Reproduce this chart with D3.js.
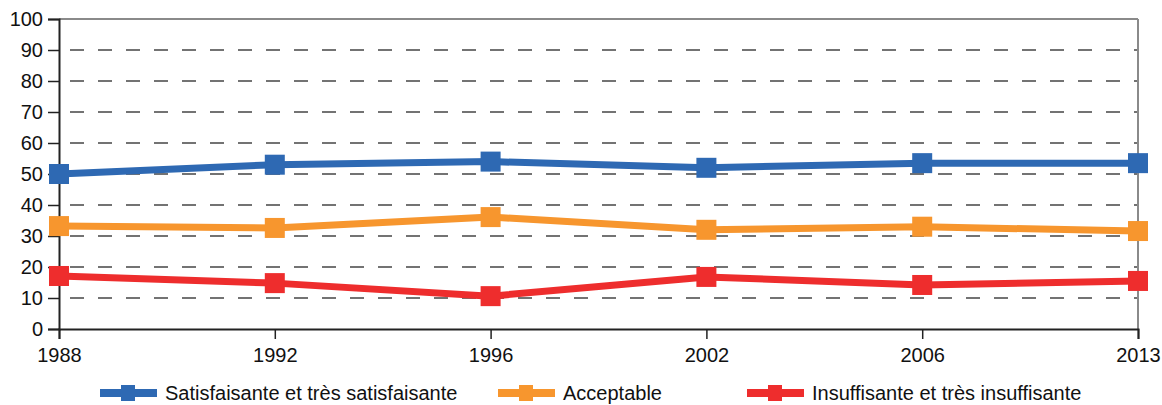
<!DOCTYPE html>
<html lang="fr">
<head>
<meta charset="utf-8">
<title>Satisfaction</title>
<script src="https://d3js.org/d3.v7.min.js"></script>
<style>
  body { margin: 0; background: #fff; }
  svg text { font-family: 'Liberation Sans', Arial, sans-serif; fill: #111; }
</style>
</head>
<body>
<svg id="chart" width="1162" height="405"></svg>
<script>
// data
const years = ["1988", "1992", "1996", "2002", "2006", "2013"];
const satisfaisante = [50, 53, 54, 52, 53.5, 53.5];
const acceptable = [33.2, 32.6, 36.1, 32, 33, 31.6];
const insuffisante = [17.1, 14.8, 10.6, 16.8, 14.2, 15.5];
const seriesNames = ["Satisfaisante et très satisfaisante", "Acceptable", "Insuffisante et très insuffisante"];
const yTicks = [0, 10, 20, 30, 40, 50, 60, 70, 80, 90, 100];

const colors = ["#2e69b3", "#f7962e", "#ee2d2d"];
const series = [satisfaisante, acceptable, insuffisante];

const svg = d3.select("#chart");
const plotL = 59, plotR = 1138, plotT = 19, plotB = 329;

const x = d3.scalePoint().domain(years).range([plotL, plotR]);
const y = d3.scaleLinear().domain([0, 100]).range([plotB, plotT]);

// grid lines (dashed)
svg.append("g").selectAll("line")
  .data(yTicks.filter(d => d > 0 && d < 100))
  .join("line")
  .attr("x1", plotL + 11).attr("x2", plotR)
  .attr("y1", d => y(d)).attr("y2", d => y(d))
  .attr("stroke", "#737373").attr("stroke-width", 2)
  .attr("stroke-dasharray", "14,14");

// plot frame top + right
svg.append("line").attr("x1", plotL).attr("x2", plotR).attr("y1", plotT).attr("y2", plotT)
  .attr("stroke", "#8a8a8a").attr("stroke-width", 2);
svg.append("line").attr("x1", plotR).attr("x2", plotR).attr("y1", plotT).attr("y2", plotB)
  .attr("stroke", "#8a8a8a").attr("stroke-width", 2);

// y axis
const yAxis = d3.axisLeft(y).tickValues(yTicks).tickSize(11).tickPadding(5);
const gy = svg.append("g").attr("transform", `translate(${plotL},0)`).call(yAxis);
gy.select(".domain").attr("stroke", "#222").attr("stroke-width", 2);
gy.selectAll(".tick line").attr("stroke", "#222").attr("stroke-width", 1.5);
gy.selectAll("text").style("font-size", "20px").attr("fill", "#111");

// x axis
const xAxis = d3.axisBottom(x).tickSize(10).tickPadding(9);
const gx = svg.append("g").attr("transform", `translate(0,${plotB})`).call(xAxis);
gx.select(".domain").attr("stroke", "#222").attr("stroke-width", 2);
gx.selectAll(".tick line").attr("stroke", "#222").attr("stroke-width", 1.5);
gx.selectAll("text").style("font-size", "20px").attr("fill", "#111");

// lines and markers
const line = d3.line().x((d, i) => x(years[i])).y(d => y(d));
series.forEach((s, k) => {
  svg.append("path").datum(s)
    .attr("d", line)
    .attr("fill", "none")
    .attr("stroke", colors[k])
    .attr("stroke-width", 7)
    .attr("stroke-linejoin", "round");
  svg.append("g").selectAll("rect").data(s).join("rect")
    .attr("x", (d, i) => x(years[i]) - 10)
    .attr("y", d => y(d) - 10)
    .attr("width", 20).attr("height", 20)
    .attr("fill", colors[k]);
});

// legend
const legendX = [100, 498, 747];
const ly = 393;
seriesNames.forEach((name, k) => {
  const g = svg.append("g").attr("transform", `translate(${legendX[k]},${ly})`);
  g.append("line").attr("x1", 0).attr("x2", 57).attr("y1", 0).attr("y2", 0)
    .attr("stroke", colors[k]).attr("stroke-width", 8);
  g.append("rect").attr("x", 21).attr("y", -8).attr("width", 14).attr("height", 16)
    .attr("fill", colors[k]);
  g.append("text").attr("x", 65).attr("y", 0).attr("dy", "0.35em")
    .style("font-size", "20px").text(name);
});
</script>
</body>
</html>
